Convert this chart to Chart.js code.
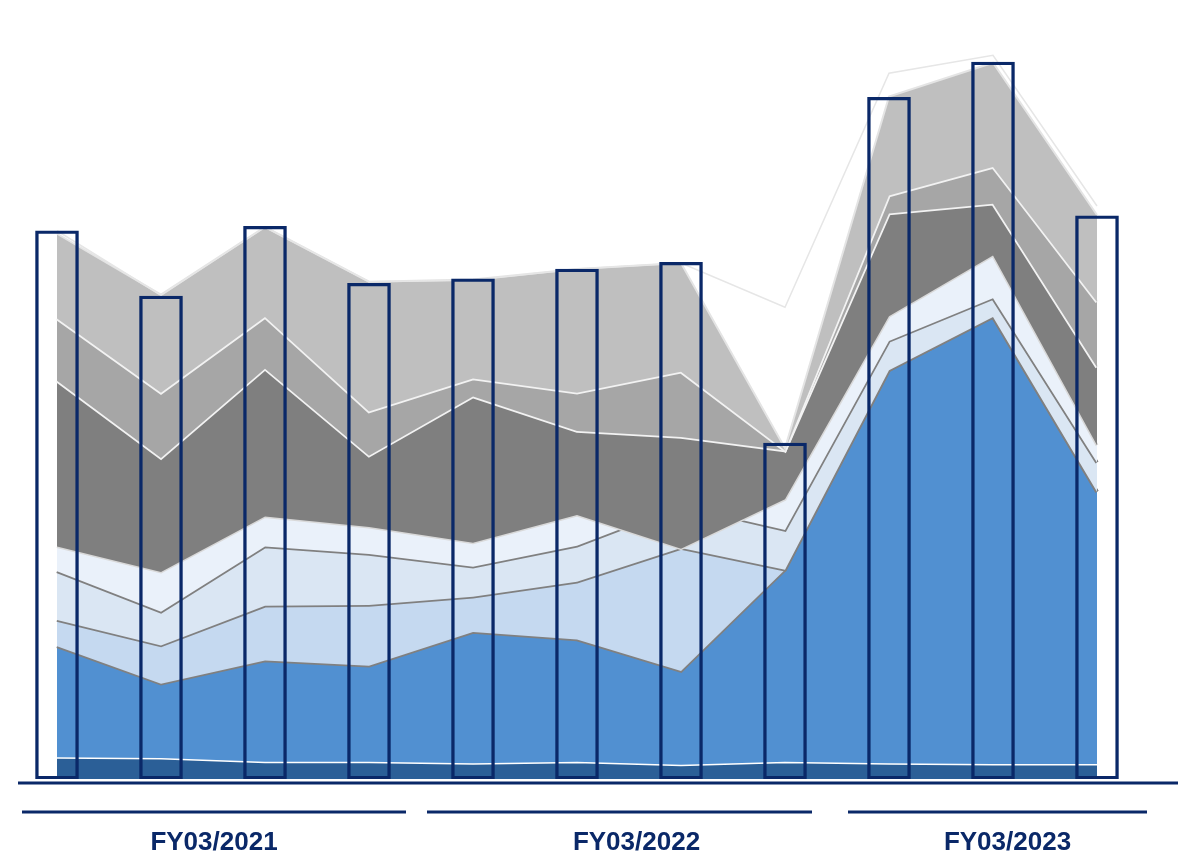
<!DOCTYPE html>
<html>
<head>
<meta charset="utf-8">
<title>Quarterly breakdown</title>
<script src="https://cdn.jsdelivr.net/npm/chart.js@4.4.1/dist/chart.umd.min.js"></script>
<style>
    html, body { margin: 0; padding: 0; background: #ffffff; }
    #wrap { position: relative; width: 1180px; height: 855px; }
</style>
</head>
<body>
<div id="wrap"><canvas id="breakdownChart"></canvas></div>
<script>
// Quarters on the x axis, grouped by fiscal year below the chart
const quarters = [
    '1Q FY03/2021', '2Q FY03/2021', '3Q FY03/2021', '4Q FY03/2021',
    '1Q FY03/2022', '2Q FY03/2022', '3Q FY03/2022', '4Q FY03/2022',
    '1Q FY03/2023', '2Q FY03/2023', '3Q FY03/2023'
];
const fiscalYears = ['FY03/2021', 'FY03/2022', 'FY03/2023'];
const quartersPerYear = [4, 4, 3];

// Quarter totals (outlined bars)
const totals = [731, 644, 737, 661, 667, 680, 689, 448, 909, 956, 751];
// Light reference line running above the stack
const outlook = [731, 645, 736, 663, 665, 680, 688, 629, 941, 965, 764];

// Stacked segments, bottom to top (a few quarters carry negative adjustments)
const segBase   = [29, 28, 23, 23, 21, 23, 19, 23, 21, 20, 20];
const segCore   = [148, 99, 135, 128, 175, 163, 125, 256, 524, 596, 363];
const segBlueC  = [35, 51, 73, 81, 47, 77, 164, 0, 0, 0, 0];
const segBlueB  = [65, 45, 79, 68, 40, 48, 56, 53, 39, 25, 39];
const segBlueA  = [33, 53, 40, 36, 32, 41, -57, 41, 33, 57, 23];
const segGrayC  = [221, 152, 197, 95, 195, 112, 149, 65, 137, 69, 104];
const segGrayB  = [83, 87, 69, 59, 24, 51, 87, 0, 24, 49, 87];
const segGrayA  = [113, 131, 120, 173, 132, 165, 145, 3, 132, 139, 116];

const NAVY = '#0a2868';

const layers = [
    { label: 'Base',   values: segBase,  fill: '#2b5f97', edge: '#ffffff', width: 3 },
    { label: 'Core',   values: segCore,  fill: '#5190d1', edge: '#808080', width: 3.5 },
    { label: 'Blue C', values: segBlueC, fill: '#c5d9f0', edge: '#808080', width: 3.5 },
    { label: 'Blue B', values: segBlueB, fill: '#dae6f3', edge: '#808080', width: 3.5 },
    { label: 'Blue A', values: segBlueA, fill: '#eaf1fa', edge: '#d9d9d9', width: 3 },
    { label: 'Gray C', values: segGrayC, fill: '#7f7f7f', edge: '#f2f2f2', width: 3.5 },
    { label: 'Gray B', values: segGrayB, fill: '#a6a6a6', edge: '#f2f2f2', width: 3.5 },
    { label: 'Gray A', values: segGrayA, fill: '#bfbfbf', edge: '#e4e4e4', width: 2 }
];

// Running sums give each layer's upper edge; each layer fills down to the one below
const datasets = [];
let running = quarters.map(() => 0);
layers.forEach((layer, i) => {
    running = running.map((v, k) => v + layer.values[k]);
    datasets.push({
        type: 'line',
        label: layer.label,
        data: running.slice(),
        backgroundColor: layer.fill,
        borderColor: layer.edge,
        borderWidth: layer.width,
        fill: i === 0 ? 'origin' : '-1',
        order: 20 - i,
        pointRadius: 0,
        tension: 0
    });
});

datasets.push({
    type: 'line',
    label: 'Outlook',
    data: outlook,
    borderColor: '#e6e6e6',
    borderWidth: 1.5,
    fill: false,
    order: 1,
    pointRadius: 0,
    tension: 0
});

datasets.push({
    type: 'bar',
    label: 'Total',
    data: totals,
    backgroundColor: 'rgba(0,0,0,0)',
    borderColor: NAVY,
    borderWidth: 2.75,
    borderSkipped: false,
    barThickness: 43,
    order: 0
});

// bracket insets (left, right) and label nudge per fiscal year
const bracketInset = [[17, 15], [6, 25], [11, 2]];
const labelShift = [0, 17, 10];

// Baseline plus fiscal-year brackets under the plot
const fiscalAxis = {
    id: 'fiscalAxis',
    afterDraw(chart) {
        const ctx = chart.ctx;
        const x = chart.scales.x;
        const area = chart.chartArea;
        const step = x.getPixelForValue(1) - x.getPixelForValue(0);

        ctx.save();
        ctx.strokeStyle = NAVY;
        ctx.lineWidth = 3;
        ctx.beginPath();
        ctx.moveTo(area.left + 13, area.bottom + 4);
        ctx.lineTo(chart.width - 2, area.bottom + 4);
        ctx.stroke();

        let first = 0;
        fiscalYears.forEach((fy, g) => {
            const last = first + quartersPerYear[g] - 1;
            const x0 = x.getPixelForValue(first) - step / 2 + bracketInset[g][0];
            const x1 = x.getPixelForValue(last) + step / 2 - bracketInset[g][1];

            ctx.lineWidth = 3;
            ctx.beginPath();
            ctx.moveTo(x0, area.bottom + 33);
            ctx.lineTo(x1, area.bottom + 33);
            ctx.stroke();

            ctx.fillStyle = NAVY;
            ctx.font = 'bold 26px "Liberation Sans", Arial, sans-serif';
            ctx.textAlign = 'center';
            ctx.textBaseline = 'alphabetic';
            ctx.fillText(fy, (x0 + x1) / 2 + labelShift[g], area.bottom + 71);
            first = last + 1;
        });
        ctx.restore();
    }
};

new Chart(document.getElementById('breakdownChart'), {
    type: 'bar',
    data: { labels: quarters, datasets: datasets },
    options: {
        responsive: true,
        maintainAspectRatio: false,
        animation: false,
        layout: { padding: { left: 5, right: 31, top: 29, bottom: 76 } },
        scales: {
            x: { display: false, offset: true },
            y: { display: false, min: 0, max: 1000 }
        },
        plugins: {
            legend: { display: false },
            tooltip: { enabled: false }
        }
    },
    plugins: [fiscalAxis]
});
</script>
</body>
</html>
